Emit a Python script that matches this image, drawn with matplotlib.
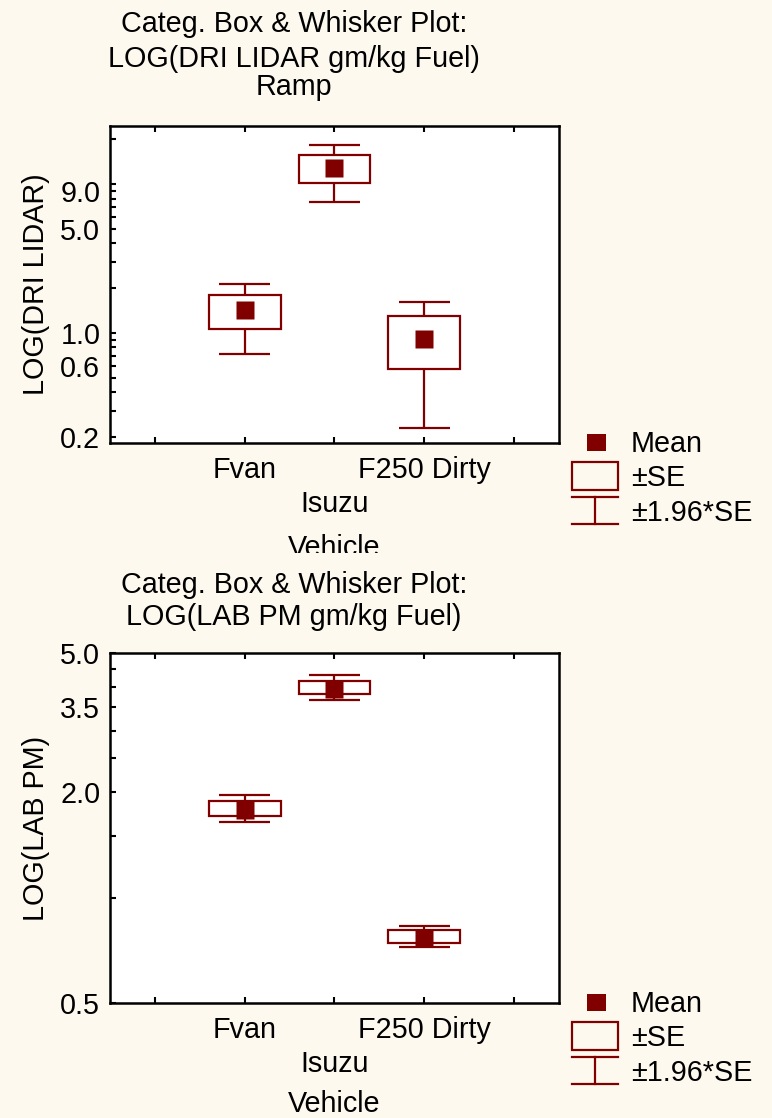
import matplotlib
matplotlib.use('Agg')
import matplotlib.pyplot as plt
from matplotlib.patches import Rectangle
from matplotlib.lines import Line2D
from matplotlib.transforms import Bbox

plt.rcParams['font.family'] = ['Liberation Sans', 'DejaVu Sans']

W, H = 772, 1118
BG = '#fdf9ef'
RED = '#800000'
FS = 20.7

# ---- data ---- #
categories = ['Fvan', 'Isuzu', 'F250 Dirty']
label_rows = [0, 1, 0]          # staggered category labels
x_ticks = [0, 1, 2, 3, 4]

# LOG(DRI LIDAR gm/kg Fuel), Ramp
lidar_mean = [1.42, 12.8, 0.91]
lidar_se_lo = [1.06, 10.2, 0.57]
lidar_se_hi = [1.80, 15.8, 1.29]
lidar_ci_lo = [0.72, 7.55, 0.229]
lidar_ci_hi = [2.13, 18.3, 1.62]
lidar_yticks = [0.2, 0.6, 1.0, 5.0, 9.0]
lidar_yticklabels = ['0.2', '0.6', '1.0', '5.0', '9.0']
lidar_yminor = [0.3, 0.4, 0.5, 0.7, 0.8, 0.9, 2, 3, 4, 6, 7, 8, 10, 20]
lidar_ylim = (0.182, 24.6)

# LOG(LAB PM gm/kg Fuel)
pm_mean = [1.78, 3.95, 0.766]
pm_se_lo = [1.71, 3.81, 0.744]
pm_se_hi = [1.89, 4.16, 0.806]
pm_ci_lo = [1.64, 3.67, 0.723]
pm_ci_hi = [1.97, 4.32, 0.83]
pm_yticks = [0.5, 2.0, 3.5, 5.0]
pm_yticklabels = ['0.5', '2.0', '3.5', '5.0']
pm_yminor = [1.0, 1.5, 2.5, 3.0, 4.0, 4.5]
pm_ylim = (0.5, 5.0)

legend_labels = ['Mean', '\u00b1SE', '\u00b11.96*SE']


def px_axes(fig, left, top, right, bottom):
    return fig.add_axes([left / W, 1 - bottom / H, (right - left) / W, (bottom - top) / H])


def panel(fig, top, bottom, mean, se_lo, se_hi, ci_lo, ci_hi,
          yticks, yticklabels, yminor, ylim, ylabel, titles, xlabel_base, clip_xlabel=False):
    ax = px_axes(fig, 110, top, 559, bottom)
    ax.set_facecolor('white')
    ax.set_yscale('log')
    ax.set_xlim(-0.5, 4.5)
    ax.set_ylim(*ylim)
    ax.set_yticks(yticks)
    ax.set_yticklabels(yticklabels)
    ax.set_yticks(yminor, minor=True)
    ax.yaxis.set_minor_formatter(plt.NullFormatter())
    ax.set_xticks(x_ticks)
    ax.set_xticklabels([''] * len(x_ticks))
    ax.tick_params(which='both', direction='in', top=True, right=False,
                   length=4, width=1.5, labelsize=FS, pad=7)
    for s in ax.spines.values():
        s.set_linewidth(1.8)

    for i, cat in enumerate(categories):
        x = i + 1
        ax.add_patch(Rectangle((x - 0.4, se_lo[i]), 0.8, se_hi[i] - se_lo[i],
                               fill=False, edgecolor=RED, lw=1.6, zorder=3))
        ax.vlines(x, ci_lo[i], se_lo[i], color=RED, lw=1.6, zorder=3)
        ax.vlines(x, se_hi[i], ci_hi[i], color=RED, lw=1.6, zorder=3)
        ax.hlines([ci_lo[i], ci_hi[i]], x - 0.285, x + 0.285, color=RED, lw=1.6, zorder=3)
        ax.plot(x, mean[i], 's', color=RED, ms=13.5, mec='none', zorder=4)
        ax.annotate(cat, xy=(x, 0), xycoords=('data', 'axes fraction'),
                    xytext=(0, -25.2 - 24.5 * label_rows[i]), textcoords='offset points',
                    ha='center', va='baseline', fontsize=FS, annotation_clip=False)

    xl = fig.text(334.5 / W, 1 - (bottom + xlabel_base) / H, 'Vehicle', ha='center',
                  va='baseline', fontsize=FS)
    if clip_xlabel:
        xl.set_clip_box(Bbox([[0, H - (bottom + 110)], [W, H]]))
        xl.set_clip_on(True)

    fig.text(36 / W, 1 - (top + bottom) / 2 / H, ylabel, rotation=90,
             ha='center', va='center', fontsize=FS)
    for txt, base in titles:
        fig.text(294 / W, 1 - base / H, txt, ha='center', va='baseline', fontsize=FS)

    # legend
    lg = px_axes(fig, 560, bottom - 20, 772, bottom + 95)
    lg.set_xlim(560, 772)
    lg.set_ylim(bottom + 95, bottom - 20)
    lg.axis('off')
    lg.add_patch(Rectangle((587, bottom - 9), 19, 17, color=RED, lw=0))
    lg.add_patch(Rectangle((572, bottom + 19), 46, 28, fill=False, edgecolor=RED, lw=1.6))
    lg.add_line(Line2D([572, 618], [bottom + 54, bottom + 54], color=RED, lw=1.6))
    lg.add_line(Line2D([572, 618], [bottom + 81, bottom + 81], color=RED, lw=1.6))
    lg.add_line(Line2D([595, 595], [bottom + 54, bottom + 81], color=RED, lw=1.6))
    for lab, off in zip(legend_labels, [9, 43, 78]):
        lg.text(631, bottom + off, lab, ha='left', va='baseline', fontsize=FS)
    return ax


fig = plt.figure(figsize=(W / 100, H / 100), dpi=100, facecolor=BG)

panel(fig, 126, 443, lidar_mean, lidar_se_lo, lidar_se_hi, lidar_ci_lo, lidar_ci_hi,
      lidar_yticks, lidar_yticklabels, lidar_yminor, lidar_ylim, 'LOG(DRI LIDAR)',
      [('Categ. Box & Whisker Plot:', 32), ('LOG(DRI LIDAR gm/kg Fuel)', 67), ('Ramp', 95)],
      113, clip_xlabel=True)

panel(fig, 653, 1003, pm_mean, pm_se_lo, pm_se_hi, pm_ci_lo, pm_ci_hi,
      pm_yticks, pm_yticklabels, pm_yminor, pm_ylim, 'LOG(LAB PM)',
      [('Categ. Box & Whisker Plot:', 593), ('LOG(LAB PM gm/kg Fuel)', 625)],
      109)

fig.savefig('out.png', dpi=100, facecolor=BG)
